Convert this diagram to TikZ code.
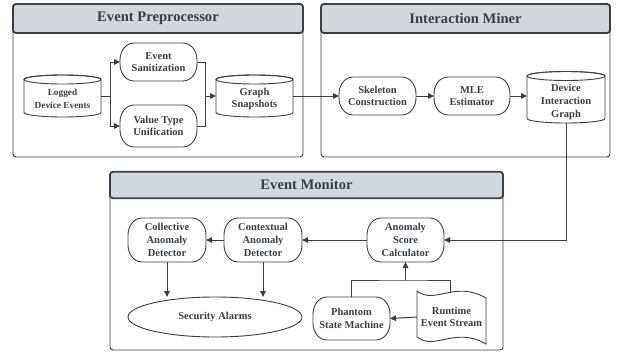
\documentclass[tikz,border=0pt]{standalone}
\usepackage{fontspec}
\setmainfont{Liberation Serif}
\usetikzlibrary{arrows.meta,shapes.geometric}
\definecolor{ink}{RGB}{58,63,71}
\definecolor{headfill}{RGB}{210,214,221}

% Drum (database) outline: centre x, centre y, width, height, cap radius
\newcommand\drumoutline[5]{%
  \draw[shapeline, fill=white]
    ({#1-#3/2},{#2-#4/2+#5}) -- ({#1-#3/2},{#2+#4/2-#5})
    arc[start angle=180, end angle=0, x radius={#3/2}, y radius=#5]
    -- ({#1+#3/2},{#2-#4/2+#5})
    arc[start angle=0, end angle=-180, x radius={#3/2}, y radius=#5] -- cycle;
  \draw[shapeline] ({#1},{#2-#4/2+#5}) ellipse[x radius={#3/2}, y radius=#5];
}
% Process box with soft elliptic corners: centre x, centre y, width, height
\newcommand\procoutline[4]{%
  \draw[shapeline, fill=white]
    ({#1-#3/2+14},{#2-#4/2}) -- ({#1+#3/2-14},{#2-#4/2})
    arc[start angle=-90, end angle=0, x radius=14, y radius=17]
    -- ({#1+#3/2},{#2+#4/2-17})
    arc[start angle=0, end angle=90, x radius=14, y radius=17]
    -- ({#1-#3/2+14},{#2+#4/2})
    arc[start angle=90, end angle=180, x radius=14, y radius=17]
    -- ({#1-#3/2},{#2-#4/2+17})
    arc[start angle=180, end angle=270, x radius=14, y radius=17] -- cycle;
}

\begin{document}
\begin{tikzpicture}[x=1pt,y=-1pt,
  every node/.style={inner sep=0pt, outer sep=0pt, text=ink},
  shapeline/.style={draw=ink, line width=0.9pt},
  panel/.style={draw=ink, line width=0.9pt, rounded corners=3pt, fill=white},
  header/.style={draw=ink, line width=1.8pt, rounded corners=3pt, fill=headfill,
    font=\fontsize{14.6}{17}\selectfont\bfseries},
  txt/.style={align=center, font=\fontsize{10.5}{12.7}\selectfont\bfseries},
  flow/.style={draw=ink, line width=1pt, -{Triangle[length=6pt,width=5.5pt]}},
  link/.style={draw=ink, line width=1pt},
]
\useasboundingbox (0,0) rectangle (618,356);

% ---------- panels ----------
\node[panel, minimum width=290, minimum height=153] (ppre) at (158,80.5) {};
\node[header, minimum width=290, minimum height=29] (hpre) at (158,18.5) {Event Preprocessor};
\node[panel, minimum width=289, minimum height=153] (pmin) at (465.5,80.5) {};
\node[header, minimum width=289, minimum height=29] (hmin) at (465.5,18.5) {Interaction Miner};
\node[panel, minimum width=393, minimum height=178] (pmon) at (306.5,261) {};
\node[header, minimum width=393, minimum height=26.5] (hmon) at (306.5,185) {Event Monitor};

% ---------- event preprocessor ----------
\drumoutline{62.5}{96}{77}{42}{4.5}
\node[minimum width=77, minimum height=42] (logged) at (62.5,96) {};
\node[txt, font=\fontsize{9.3}{12.5}\selectfont\bfseries] (loggedtxt) at (62.5,99) {Logged\\Device Events};

\procoutline{158.5}{62}{77}{38}
\node[txt, minimum width=77, minimum height=38] (sanit) at (158.5,62) {Event\\Sanitization};
\procoutline{158.5}{126}{77}{42}
\node[txt, minimum width=77, minimum height=42] (unif) at (158.5,126) {Value Type\\Unification};

\drumoutline{254.5}{96}{77}{42}{4.5}
\node[minimum width=77, minimum height=42] (snap) at (254.5,96) {};
\node[txt] (snaptxt) at (254.5,99) {Graph\\Snapshots};

% ---------- interaction miner ----------
\procoutline{377.5}{96}{77}{38}
\node[txt, minimum width=77, minimum height=38] (skel) at (377.5,96) {Skeleton\\Construction};
\procoutline{472}{96}{76}{38}
\node[txt, minimum width=76, minimum height=38] (mle) at (472,96) {MLE\\Estimator};

\drumoutline{566}{97.25}{78}{51.5}{4.5}
\node[minimum width=78, minimum height=51.5] (dig) at (566,97.25) {};
\node[txt] (digtxt) at (566,102) {Device\\Interaction\\Graph};

% ---------- event monitor ----------
\procoutline{167}{240}{78}{44}
\node[txt, minimum width=78, minimum height=44] (coll) at (167,240) {Collective\\Anomaly\\Detector};
\procoutline{263}{240}{78}{44}
\node[txt, minimum width=78, minimum height=44] (ctx) at (263,240) {Contextual\\Anomaly\\Detector};
\procoutline{405.5}{240}{77}{44}
\node[txt, minimum width=77, minimum height=44] (asc) at (405.5,240) {Anomaly\\Score\\Calculator};
\node[txt, ellipse, shapeline, fill=white, minimum width=174, minimum height=40] (alarms) at (215,317) {Security Alarms};
\procoutline{351.5}{318.5}{77}{43}
\node[txt, minimum width=77, minimum height=43] (phantom) at (351.5,318.5) {Phantom\\State Machine};

% punched-tape stream
\draw[shapeline, fill=white]
  (417,291) .. controls (435,305) and (455,280) .. (486,298)
  -- (486,344) .. controls (455,326) and (435,351) .. (417,337) -- cycle;
\node[txt, minimum width=69, minimum height=40] (rt) at (451.5,317) {Runtime\\Event Stream};
\coordinate (rttop) at (450,293);

% ---------- connectors ----------
\coordinate (fork) at (110,96);
\draw[link] (logged.east) -- (fork);
\draw[flow] (fork) |- (sanit.west);
\draw[flow] (fork) |- (unif.west);

\coordinate (merge) at (205,96);
\draw[link] (sanit.east) -| (merge);
\draw[link] (unif.east) -| (merge);
\draw[flow] (merge) -- (snap.west);

\draw[flow] (snap.east) -- (skel.west);
\draw[flow] (skel.east) -- (mle.west);
\draw[flow] (mle.east) -- (mle.east -| dig.west);
\draw[flow] (dig.south) |- (asc.east);

\draw[flow] (asc.west) -- (ctx.east);
\draw[flow] (ctx.west) -- (coll.east);
\draw[flow] (coll.south) -- (coll.south |- alarms.north);
\draw[flow] (ctx.south) -- (ctx.south |- alarms.north);

\draw[flow] (rt.west) -- (phantom.east);
\coordinate (join) at (405.5,280);
\draw[link] (phantom.north) |- (join) -| (rttop);
\draw[flow] (join) -- (asc.south);
\end{tikzpicture}
\end{document}
